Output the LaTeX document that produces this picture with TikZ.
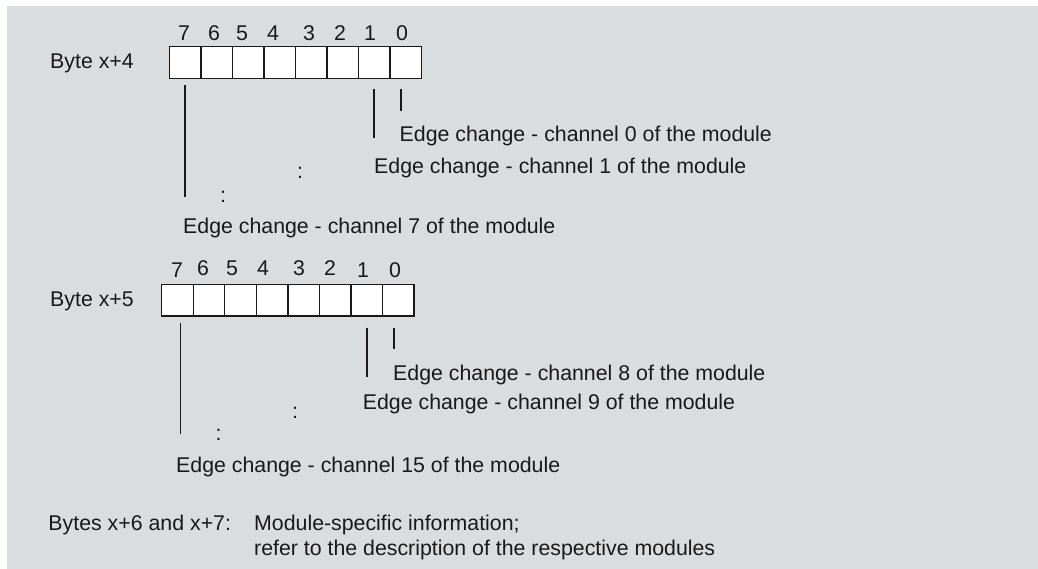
\documentclass[tikz,border=0pt]{standalone}
\usepackage{fontspec}
\setmainfont{Liberation Sans}
\definecolor{bg}{RGB}{217,221,224}
\definecolor{ink}{RGB}{25,25,25}
\begin{document}
\begin{tikzpicture}[x=1bp,y=-1bp,
  txt/.style={inner sep=0pt,anchor=base west,text=ink,font=\fontsize{21.4}{25}\selectfont},
  dig/.style={inner sep=0pt,anchor=base,text=ink,font=\fontsize{21.4}{25}\selectfont},
  dots/.style={inner sep=0pt,anchor=center,text=ink,font=\fontsize{21.4}{25}\selectfont},
  cell/.style={draw=ink,fill=white,line width=1.4bp},
  lead/.style={draw=ink,line width=1.3bp}]
\useasboundingbox (0,0) rectangle (1038,569);
\fill[white] (0,0) rectangle (1038,569);
\fill[bg] (7,6) rectangle (1038,569);

% ---- Byte x+4 ----
\node[txt] (lbl4) at (50,68.3) {Byte x+4};
\foreach \i in {0,...,7}{
  \pgfmathsetmacro{\xa}{169.3+\i*31.55}
  \pgfmathsetmacro{\xb}{169.3+(\i+1)*31.55}
  \draw[cell] (\xa,46.7) rectangle (\xb,78.3);
}
\foreach \d/\x in {7/184,6/214,5/242,4/273,3/309,2/340,1/370,0/402}{
  \node[dig] (ta\d) at (\x,40.7) {\d};
}
\coordinate (a7s) at (185,85);  \coordinate (a7e) at (185,197);
\coordinate (a1s) at (374,89);  \coordinate (a1e) at (374,138);
\coordinate (a0s) at (401,89);  \coordinate (a0e) at (401,111);
\draw[lead] (a7s) -- (a7e);
\draw[lead] (a1s) -- (a1e);
\draw[lead] (a0s) -- (a0e);
\node[txt] (c0) at (399.5,141.7) {Edge change - channel 0 of the module};
\node[txt] (c1) at (374,173.3) {Edge change - channel 1 of the module};
\node[dots] (d1) at (300,173) {:};
\node[dots] (d2) at (223,197) {:};
\node[txt] (c7) at (183,233.3) {Edge change - channel 7 of the module};

% ---- Byte x+5 ----
\node[txt] (lbl5) at (50,306.7) {Byte x+5};
\foreach \i in {0,...,7}{
  \pgfmathsetmacro{\xa}{161.7+\i*31.54}
  \pgfmathsetmacro{\xb}{161.7+(\i+1)*31.54}
  \draw[cell] (\xa,284.7) rectangle (\xb,316);
}
\foreach \d/\x/\y in {7/177/278,6/203/276,5/232/276,4/263/276,3/299/276,2/330/276,1/363/278,0/395/278}{
  \node[dig] (tb\d) at (\x,\y) {\d};
}
\coordinate (b7s) at (180.3,322.7); \coordinate (b7e) at (180.3,434.3);
\coordinate (b1s) at (367,327.7);   \coordinate (b1e) at (367,377.3);
\coordinate (b0s) at (394,327.7);   \coordinate (b0e) at (394,349.3);
\draw[lead] (b7s) -- (b7e);
\draw[lead] (b1s) -- (b1e);
\draw[lead] (b0s) -- (b0e);
\node[txt] (c8) at (393,380.7) {Edge change - channel 8 of the module};
\node[txt] (c9) at (362.7,409.3) {Edge change - channel 9 of the module};
\node[dots] (d3) at (295,413) {:};
\node[dots] (d4) at (218.7,435) {:};
\node[txt] (c15) at (176,472.7) {Edge change - channel 15 of the module};

% ---- Bytes x+6 and x+7 ----
\node[txt] (lbl67) at (48.3,530) {Bytes x+6 and x+7:};
\node[txt] (m1) at (254,530) {Module-specific information;};
\node[txt] (m2) at (254,555) {refer to the description of the respective modules};
\end{tikzpicture}
\end{document}
